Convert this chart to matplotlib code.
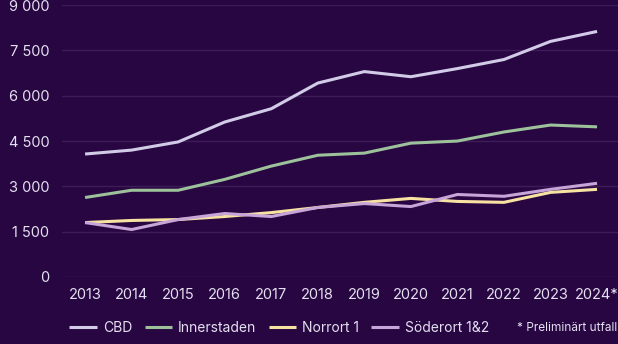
import matplotlib.pyplot as plt
from matplotlib.ticker import FuncFormatter

plt.rcParams['font.family'] = ['Inter', 'DejaVu Sans']

years = ['2013', '2014', '2015', '2016', '2017', '2018', '2019', '2020',
         '2021', '2022', '2023', '2024*']
cbd = [4070, 4200, 4470, 5130, 5570, 6420, 6800, 6630, 6900, 7200, 7800, 8130]
innerstaden = [2630, 2870, 2870, 3230, 3670, 4030, 4100, 4430, 4500, 4800, 5030, 4970]
norrort = [1800, 1870, 1900, 2000, 2130, 2300, 2470, 2600, 2500, 2470, 2800, 2900]
soderort = [1800, 1570, 1900, 2100, 2000, 2300, 2430, 2330, 2730, 2670, 2900, 3100]

series = [
    ('CBD', cbd, '#d2cbe8'),
    ('Innerstaden', innerstaden, '#9dc29b'),
    ('Norrort 1', norrort, '#f7e2a2'),
    ('Söderort 1&2', soderort, '#c7a5d8'),
]

bg = '#280642'
txt = '#e4e0f0'

fig = plt.figure(figsize=(6.18, 3.44), dpi=100, facecolor=bg)
ax = fig.add_axes([0.10, 0.195, 0.90, 0.79])
ax.set_facecolor(bg)

x = range(len(years))
for name, vals, col in series:
    ax.plot(x, vals, color=col, lw=2.2, label=name, solid_capstyle='butt')

ax.set_ylim(0, 9000)
ax.set_yticks([0, 1500, 3000, 4500, 6000, 7500, 9000])
ax.yaxis.set_major_formatter(FuncFormatter(lambda v, p: f'{int(v):,}'.replace(',', ' ')))
ax.set_xlim(-0.5, 11.45)
ax.set_xticks(list(x))
ax.set_xticklabels(years)
ax.grid(axis='y', color='#3e1c58', lw=1)
ax.set_axisbelow(True)
for s in ax.spines.values():
    s.set_visible(False)
ax.tick_params(length=0, colors=txt, labelsize=10.5)
ax.tick_params(axis='x', pad=8)
ax.tick_params(axis='y', pad=9)

leg = fig.legend(loc='lower left', bbox_to_anchor=(0.092, -0.01), ncol=4,
                 frameon=False, handlelength=2.0, columnspacing=0.9,
                 handletextpad=0.4, labelcolor=txt, prop={'size': 10})
fig.text(0.998, 0.028, '* Preliminärt utfall', ha='right', va='bottom',
         color=txt, fontsize=8.5)

fig.savefig('out.png', facecolor=bg)
